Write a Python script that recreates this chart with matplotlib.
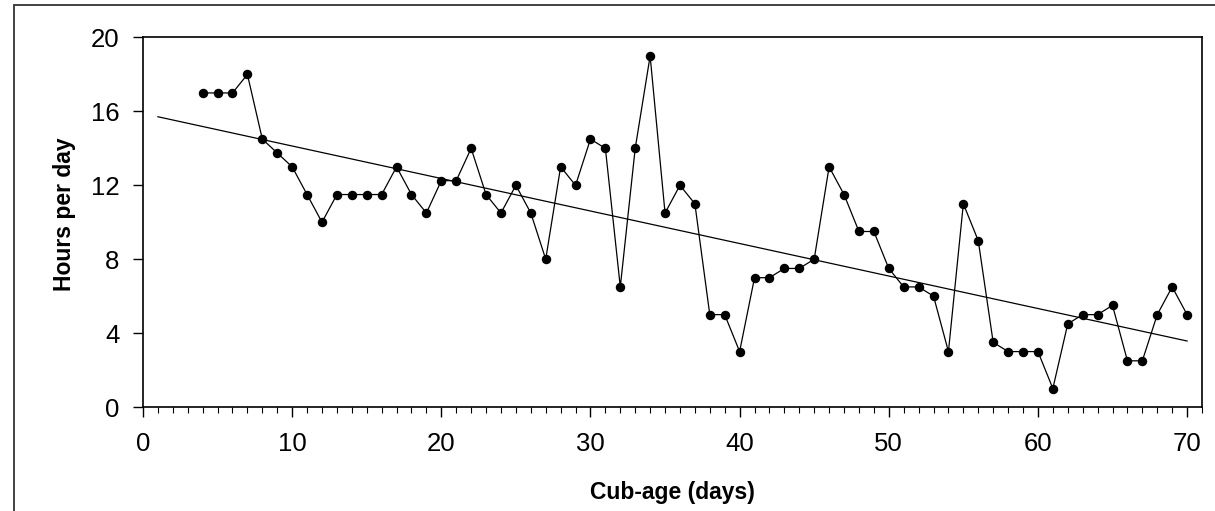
import numpy as np
import matplotlib
matplotlib.use("Agg")
import matplotlib.pyplot as plt
from matplotlib.patches import Rectangle
from matplotlib.ticker import MultipleLocator

plt.rcParams['font.family'] = ['Liberation Sans', 'DejaVu Sans']

age = list(range(4, 71))
hours = [17, 17, 17, 18, 14.5, 13.75, 13, 11.5, 10, 11.5,
         11.5, 11.5, 11.5, 13, 11.5, 10.5, 12.25, 12.25, 14, 11.5,
         10.5, 12, 10.5, 8, 13, 12, 14.5, 14, 6.5, 14,
         19, 10.5, 12, 11, 5, 5, 3, 7, 7, 7.5,
         7.5, 8, 13, 11.5, 9.5, 9.5, 7.5, 6.5, 6.5, 6,
         3, 11, 9, 3.5, 3, 3, 3, 1, 4.5, 5,
         5, 5.5, 2.5, 2.5, 5, 6.5, 5]
trend_range = [1, 70]
x_ticks = [0, 10, 20, 30, 40, 50, 60, 70]
y_ticks = [0, 4, 8, 12, 16, 20]

W, H = 1215, 511
fig = plt.figure(figsize=(W / 100, H / 100), dpi=100)
ax_l, ax_r, ax_t, ax_b = 143, 1202, 37.5, 407
ax = fig.add_axes([ax_l / W, 1 - ax_b / H, (ax_r - ax_l) / W, (ax_b - ax_t) / H])

ax.plot(age, hours, color='black', lw=0.9, marker='o', markersize=5.8,
        markerfacecolor='black', markeredgecolor='black', zorder=3)

slope, intercept = np.polyfit(age, hours, 1)
tx = np.array(trend_range, dtype=float)
ax.plot(tx, slope * tx + intercept, color='black', lw=0.9, zorder=2)

ax.set_xlim(0, 71)
ax.set_ylim(0, 20)
ax.set_xticks(x_ticks)
ax.set_yticks(y_ticks)
ax.xaxis.set_minor_locator(MultipleLocator(1))
ax.tick_params(axis='both', which='major', direction='out', length=7, width=1,
               labelsize=18.5)
ax.tick_params(axis='x', which='major', pad=11)
ax.tick_params(axis='y', which='major', pad=10)
ax.tick_params(axis='x', which='minor', direction='out', length=4.5, width=0.8)
for s in ax.spines.values():
    s.set_linewidth(1.2)

ax.set_xlabel('Cub-age (days)', fontsize=16.5, fontweight='bold')
ax.set_ylabel('Hours per day', fontsize=16.5, fontweight='bold')
ax.xaxis.label.set_va('center')
ax.yaxis.label.set_va('center')
ax.xaxis.set_label_coords(0.5, (ax_b - 492) / (ax_b - ax_t))
ax.yaxis.set_label_coords((64 - ax_l) / (ax_r - ax_l), (ax_b - 214) / (ax_b - ax_t))

fig.patches.append(Rectangle((14 / W, -0.05), 1.2, 1 - 5 / H + 0.05,
                             transform=fig.transFigure, fill=False,
                             edgecolor='#333333', lw=1.3))

fig.savefig('out.png', dpi=100)
